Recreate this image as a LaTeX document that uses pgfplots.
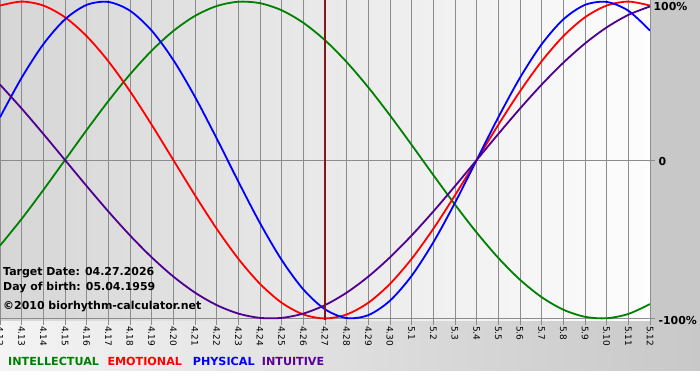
\documentclass[border=0pt]{standalone}
\usepackage{pgfplots}
\usepackage{pgfplotstable}
\pgfplotsset{compat=1.18}
\usepackage{fontspec}
\setmainfont{DejaVu Sans}
\definecolor{gridgray}{HTML}{8C8C8C}
\definecolor{bgL}{HTML}{D6D6D6}
\definecolor{bgR}{HTML}{FDFDFD}
\definecolor{stripL}{HTML}{F4F4F4}
\definecolor{stripR}{HTML}{C8C8C8}
\definecolor{cgreen}{HTML}{008000}
\definecolor{cred}{HTML}{FF0000}
\definecolor{cblue}{HTML}{0000FF}
\definecolor{cpurple}{HTML}{500090}
\definecolor{lpurple}{HTML}{5A0099}
\definecolor{ctarget}{HTML}{801818}
\pgfplotstableread{
d phys emo intel intu
0 0.2698 0.9749 -0.5406 0.4760
1 0.5196 1.0000 -0.3717 0.3247
2 0.7308 0.9749 -0.1893 0.1646
3 0.8879 0.9010 0.0000 0.0000
4 0.9791 0.7818 0.1893 -0.1646
5 0.9977 0.6235 0.3717 -0.3247
6 0.9423 0.4339 0.5406 -0.4760
7 0.8170 0.2225 0.6901 -0.6142
8 0.6311 0.0000 0.8146 -0.7357
9 0.3984 -0.2225 0.9096 -0.8372
10 0.1362 -0.4339 0.9718 -0.9158
11 -0.1362 -0.6235 0.9989 -0.9694
12 -0.3984 -0.7818 0.9898 -0.9966
13 -0.6311 -0.9010 0.9450 -0.9966
14 -0.8170 -0.9749 0.8660 -0.9694
15 -0.9423 -1.0000 0.7558 -0.9158
16 -0.9977 -0.9749 0.6182 -0.8372
17 -0.9791 -0.9010 0.4582 -0.7357
18 -0.8879 -0.7818 0.2817 -0.6142
19 -0.7308 -0.6235 0.0951 -0.4760
20 -0.5196 -0.4339 -0.0951 -0.3247
21 -0.2698 -0.2225 -0.2817 -0.1646
22 0.0000 0.0000 -0.4582 0.0000
23 0.2698 0.2225 -0.6182 0.1646
24 0.5196 0.4339 -0.7558 0.3247
25 0.7308 0.6235 -0.8660 0.4760
26 0.8879 0.7818 -0.9450 0.6142
27 0.9791 0.9010 -0.9898 0.7357
28 0.9977 0.9749 -0.9989 0.8372
29 0.9423 1.0000 -0.9718 0.9158
30 0.8170 0.9749 -0.9096 0.9694
}\bio
\begin{document}
\begin{tikzpicture}[x=1bp,y=1bp]
\useasboundingbox (0,0) rectangle (700,380);
\fill[white] (0,0) rectangle (700,380);
\shade[left color=stripL, right color=stripR] (0,10) rectangle (700,60);
\fill[stripR] (650,60) rectangle (700,380);
\begin{axis}[
  at={(0bp,220bp)}, anchor=origin, scale only axis,
  width=650bp, height=320bp,
  xmin=0, xmax=30, ymin=-1.01, ymax=1.01,
  axis background/.style={left color=bgL, right color=bgR},
  axis line style={draw=none},
  xtick={0,...,30},
  xticklabels={4.12,4.13,4.14,4.15,4.16,4.17,4.18,4.19,4.20,4.21,4.22,4.23,4.24,4.25,4.26,4.27,4.28,4.29,4.30,5.1,5.2,5.3,5.4,5.5,5.6,5.7,5.8,5.9,5.10,5.11,5.12},
  xtick pos=bottom, ytick pos=right, yticklabel pos=right,
  tick align=outside, major tick length=5bp,
  tick style={gridgray, line width=0.75bp},
  xmajorgrids, ymajorgrids, grid style={gridgray, line width=0.75bp},
  ytick={-1,0}, yticklabels={-100\%,0},
  extra y ticks={1}, extra y tick labels={100\%},
  extra y tick style={grid=none, major tick length=0pt, yticklabel style={yshift=-3bp}},
  xticklabel style={rotate=-90, anchor=west, font=\fontsize{9}{10}\selectfont, inner sep=1bp},
  yticklabel style={font=\bfseries\fontsize{11}{12}\selectfont, yshift=-2bp},
  every axis plot/.append style={line width=1.8bp, smooth, no marks},
]
\addplot[cgreen] table[x=d, y=intel] {\bio};
\addplot[cred] table[x=d, y=emo] {\bio};
\addplot[cblue] table[x=d, y=phys] {\bio};
\addplot[cpurple] table[x=d, y=intu] {\bio};
\addplot[ctarget, line width=2bp, sharp plot] coordinates {(15,-1.01) (15,1.01)};
\end{axis}
\begin{scope}[every node/.style={anchor=west, inner sep=0pt, font=\bfseries\fontsize{11}{12}\selectfont}]
\node at (3,107) {Target Date: 04.27.2026};
\node at (3,92) {Day of birth: 05.04.1959};
\node at (3,73) {©2010 biorhythm-calculator.net};
\end{scope}
\begin{scope}[every node/.style={anchor=base west, inner sep=0pt, font=\bfseries\fontsize{11.2}{12}\selectfont}]
\node[text=cgreen] at (8,14.3) {INTELLECTUAL};
\node[text=cred] at (107.3,14.3) {EMOTIONAL};
\node[text=cblue] at (192.7,14.3) {PHYSICAL};
\node[text=lpurple] at (261.7,14.3) {INTUITIVE};
\end{scope}
\end{tikzpicture}
\end{document}
